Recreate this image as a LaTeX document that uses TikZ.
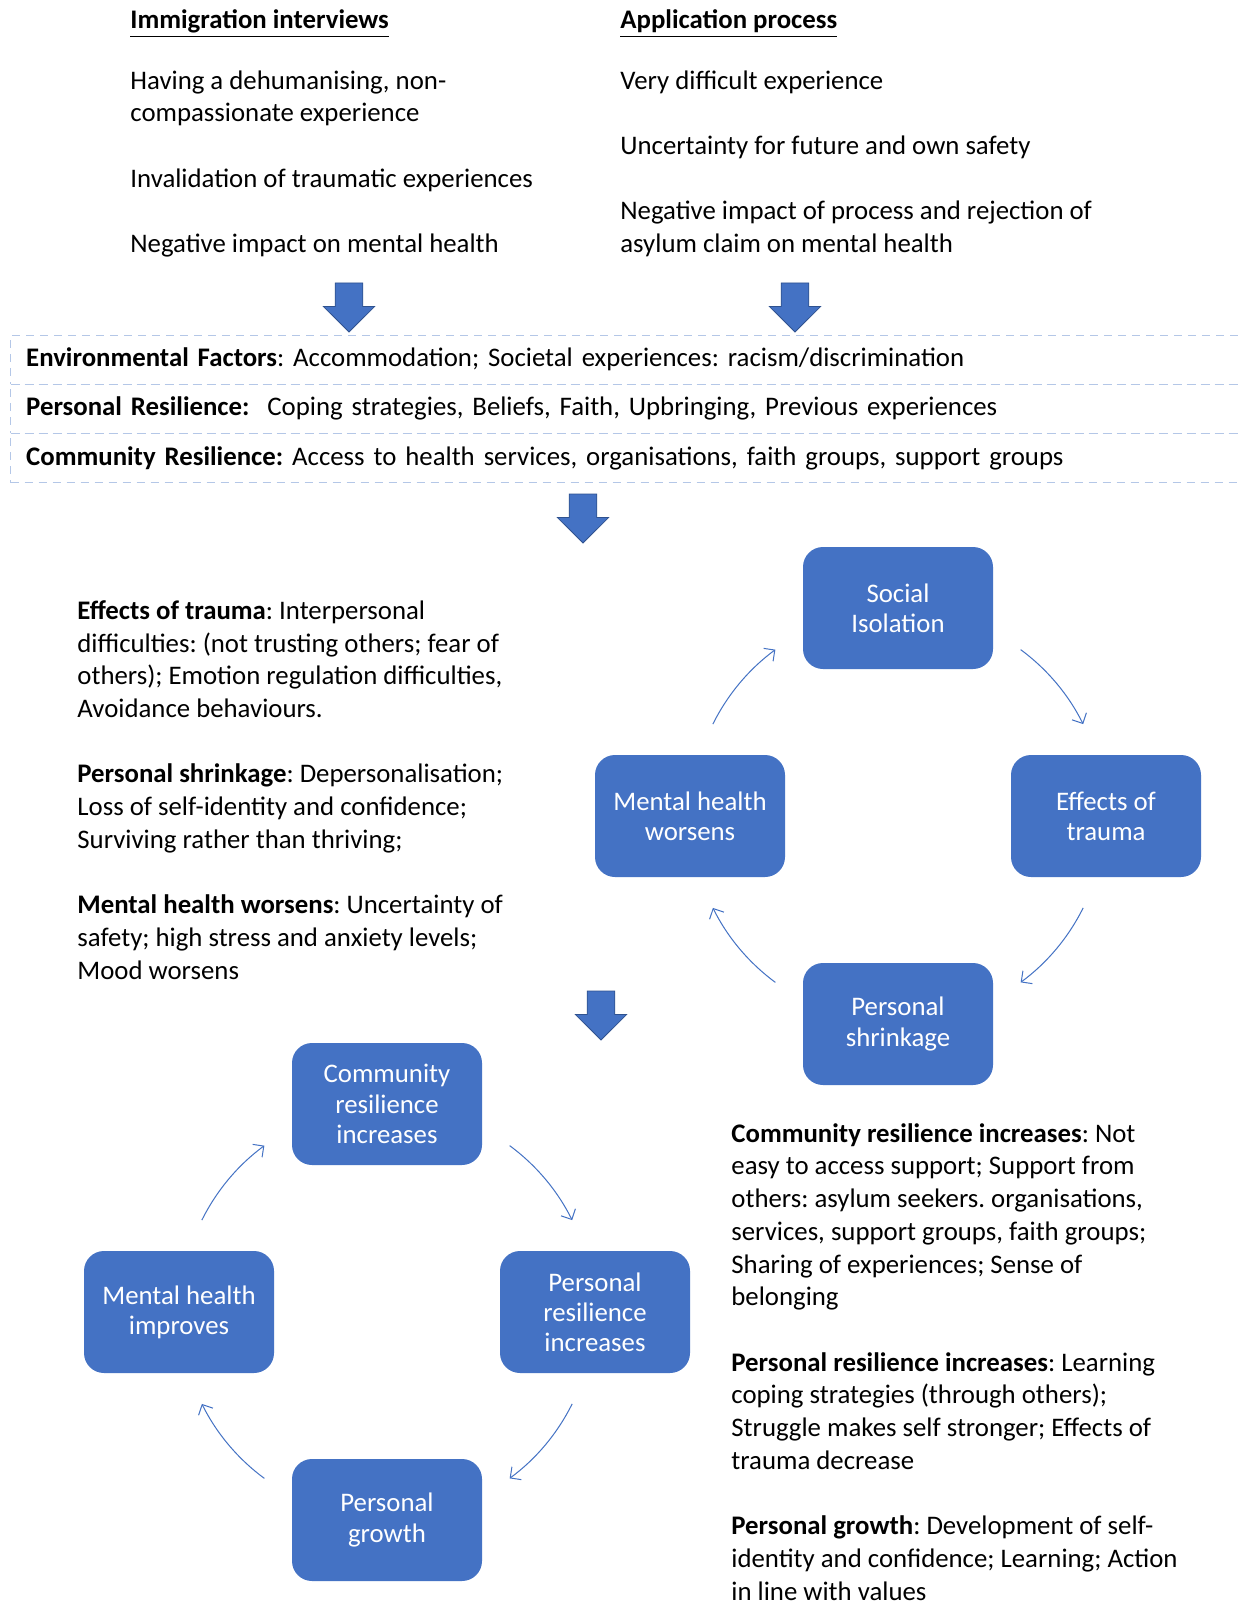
\documentclass[tikz,border=0pt]{standalone}
\usepackage{fontspec}
\setmainfont{Carlito}
\usetikzlibrary{
  arrows.meta,
  calc,
  positioning
}
\definecolor{boxblue}{RGB}{68,114,196}
\definecolor{edgeblue}{RGB}{47,82,143}
\definecolor{dashblue}{RGB}{180,199,231}
\newcommand{\bodyfont}{\fontsize{13.4}{16.35}\selectfont\frenchspacing}

\begin{document}
\begin{tikzpicture}[x=0.5pt, y=-0.5pt,
  bodytext/.style={font=\bodyfont, align=left, inner sep=0pt, anchor=base west},
  facrow/.style={draw=dashblue, dash pattern=on 4pt off 3pt, line width=0.6pt,
    anchor=north west, minimum height=24.55pt, text width=604.4pt, align=left,
    inner xsep=7.8pt, inner ysep=0pt, font=\bodyfont},
  cyclebox/.style={rectangle, rounded corners=10pt, fill=boxblue, text=white,
    minimum width=95pt, minimum height=61pt, align=center, inner sep=2pt,
    font=\fontsize{13.4}{15.1}\selectfont},
  cycarrow/.style={draw=boxblue, line width=0.5pt,
    -{Straight Barb[length=4pt, width=8pt]}}
]
  \useasboundingbox (0,0) rectangle (1237,1604);
  \fill[white] (0,0) rectangle (1237,1604);

  % Top columns (multi-line nodes sit on their last baseline)
  \node[bodytext] (iihead) at (130, 29) {\underline{\textbf{Immigration interviews}}};
  \node[bodytext] (aphead) at (620, 29) {\underline{\textbf{Application process}}};
  \node[bodytext] (iilist) at (130, 252.6) {Having a dehumanising, non-\\
    compassionate experience\\[16.35pt]
    Invalidation of traumatic experiences\\[16.35pt]
    Negative impact on mental health};
  \node[bodytext] (aplist) at (620, 252.6) {Very difficult experience\\[16.35pt]
    Uncertainty for future and own safety\\[16.35pt]
    Negative impact of process and rejection of\\
    asylum claim on mental health};

  % Block arrows
  \foreach \ax/\ay in {349/283, 795/283, 583/494, 601/991} {
    \filldraw[fill=boxblue, draw=edgeblue, line width=0.4pt]
      (\ax-13.8,\ay) -- (\ax+13.8,\ay) -- (\ax+13.8,\ay+23.5) -- (\ax+25.6,\ay+23.5)
      -- (\ax,\ay+49) -- (\ax-25.6,\ay+23.5) -- (\ax-13.8,\ay+23.5) -- cycle;
  }

  % Factors
  \node[facrow] (envrow) at (10, 334.6) {\textbf{Environmental Factors}: Accommodation; Societal experiences: racism/discrimination};
  \node[facrow] (persrow) at (10, 383.7) {\textbf{Personal Resilience:}\ \ Coping strategies, Beliefs, Faith, Upbringing, Previous experiences};
  \node[facrow] (commrow) at (10, 432.8) {\textbf{Community Resilience:} Access to health services, organisations, faith groups, support groups};

  % Worsening cycle
  \coordinate (c1) at (898, 816);
  \node[cyclebox] (si) at ($(c1)+(0,-208)$) {Social\\Isolation};
  \node[cyclebox] (et) at ($(c1)+(208,0)$) {Effects of\\trauma};
  \node[cyclebox] (ps) at ($(c1)+(0,208)$) {Personal\\shrinkage};
  \node[cyclebox] (mhw) at ($(c1)+(-208,0)$) {Mental health\\worsens};
  \foreach \sa in {153.6, 53.6, -26.4, -126.4} {
    \draw[cycarrow] ([shift={(\sa:103.35pt)}]c1) arc[start angle=\sa, end angle=\sa-27.2, radius=103.35pt];
  }

  \node[bodytext] (worsetext) at (77, 979) {\textbf{Effects of trauma}: Interpersonal\\
    difficulties: (not trusting others; fear of\\
    others); Emotion regulation difficulties,\\
    Avoidance behaviours.\\[16.35pt]
    \textbf{Personal shrinkage}: Depersonalisation;\\
    Loss of self-identity and confidence;\\
    Surviving rather than thriving;\\[16.35pt]
    \textbf{Mental health worsens}: Uncertainty of\\
    safety; high stress and anxiety levels;\\
    Mood worsens};

  % Improving cycle
  \coordinate (c2) at (387, 1312);
  \node[cyclebox] (cri) at ($(c2)+(0,-208)$) {Community\\resilience\\increases};
  \node[cyclebox] (pri) at ($(c2)+(208,0)$) {Personal\\resilience\\increases};
  \node[cyclebox] (pg) at ($(c2)+(0,208)$) {Personal\\growth};
  \node[cyclebox] (mhi) at ($(c2)+(-208,0)$) {Mental health\\improves};
  \foreach \sa in {153.6, 53.6, -26.4, -126.4} {
    \draw[cycarrow] ([shift={(\sa:103.35pt)}]c2) arc[start angle=\sa, end angle=\sa-27.2, radius=103.35pt];
  }

  \node[bodytext] (bettertext) at (731, 1600) {\textbf{Community resilience increases}: Not\\
    easy to access support; Support from\\
    others: asylum seekers. organisations,\\
    services, support groups, faith groups;\\
    Sharing of experiences; Sense of\\
    belonging\\[16.35pt]
    \textbf{Personal resilience increases}: Learning\\
    coping strategies (through others);\\
    Struggle makes self stronger; Effects of\\
    trauma decrease\\[16.35pt]
    \textbf{Personal growth}: Development of self-\\
    identity and confidence; Learning; Action\\
    in line with values};
\end{tikzpicture}
\end{document}
